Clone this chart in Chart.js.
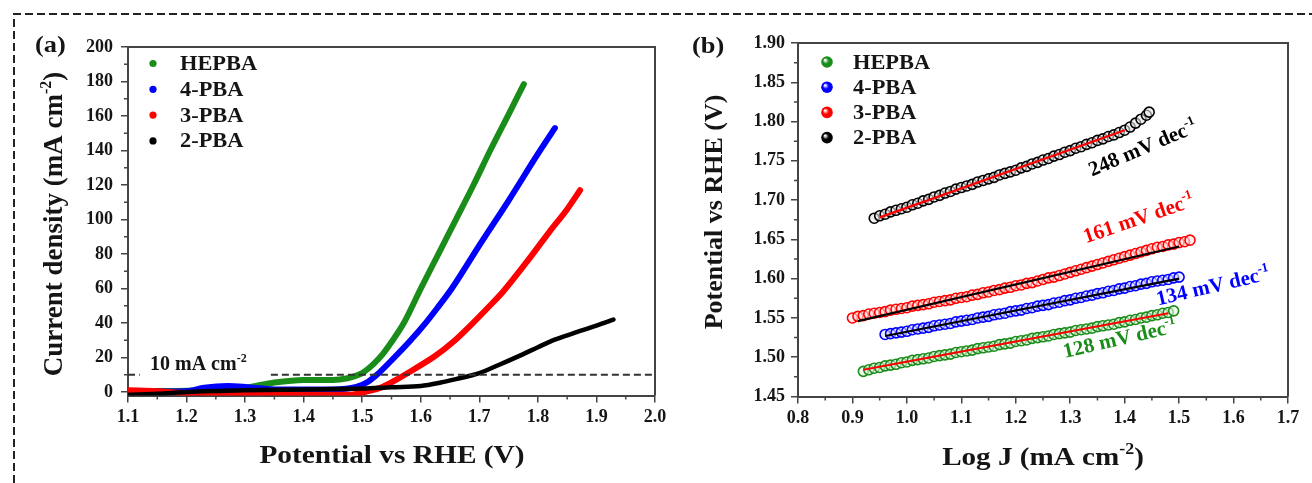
<!DOCTYPE html>
<html>
<head>
<meta charset="utf-8">
<script src="https://cdn.jsdelivr.net/npm/chart.js@4.4.1/dist/chart.umd.min.js"></script>
<style>
html,body{margin:0;padding:0;background:#fff;width:1312px;height:483px;overflow:hidden;}
#wrap{position:relative;width:1312px;height:483px;}
#wrap canvas,#wrap svg{position:absolute;top:0;}
#ca{left:0;width:690px;height:483px;}
#cb{left:660px;width:652px;height:483px;}
</style>
</head>
<body>
<div id="wrap">
<svg width="1312" height="483" style="left:0"><path d="M14 483 L14 14 L1312 14" fill="none" stroke="#222" stroke-width="2" stroke-dasharray="8 4"/></svg>
<canvas id="ca" width="690" height="483"></canvas>
<canvas id="cb" width="652" height="483"></canvas>
</div>
<script>
// series names / colours (legend order)
const names=['HEPBA','4-PBA','3-PBA','2-PBA'];
const colors=['#1a8c1a','#0000ff','#ff0000','#000000'];

// (a) LSV curves: potential vs RHE (V) / current density (mA cm-2)
const hepbaV=[1.10,1.15,1.20,1.25,1.30,1.35,1.40,1.45,1.475,1.49,1.50,1.51,1.52,1.535,1.55,1.571,1.60,1.63,1.66,1.69,1.72,1.75,1.776];
const hepbaJ=[0.5,0.6,0.8,1.5,2.5,5.5,7,7,8,9.5,11,13.5,16.5,22,29,40,60,80,100,120,141,161,178.5];
const pba4V=[1.10,1.15,1.20,1.23,1.27,1.30,1.35,1.45,1.49,1.51,1.525,1.549,1.58,1.607,1.63,1.653,1.70,1.75,1.80,1.829];
const pba4J=[0,0.3,0.5,2.5,3.5,3,1.5,1.5,3,6,10,18,29,39.5,49.5,60,85,111,138,153];
const pba3V=[1.10,1.15,1.20,1.30,1.36,1.48,1.51,1.535,1.56,1.59,1.625,1.655,1.686,1.715,1.74,1.78,1.82,1.85,1.872];
const pba3J=[1,0.5,-0.5,-0.5,-1.5,-1.5,0.5,3,7.5,13.5,21,29,39,49,58,75,93,106,117];
const pba2V=[1.10,1.15,1.20,1.30,1.40,1.50,1.55,1.60,1.634,1.66,1.70,1.735,1.775,1.80,1.83,1.86,1.90,1.929];
const pba2J=[-1.5,-1,0,1,1.5,2,2.8,3.5,5.5,7.5,11,16,22,26,30.5,34,38.5,42];
// 10 mA cm-2 reference line (broken where the label sits)
const refX=[1.10,1.12,1.121,1.344,2.0];
const refJ=[10,10,null,10,10];
const xTicksA=[1.1,1.2,1.3,1.4,1.5,1.6,1.7,1.8,1.9,2.0];
const yTicksA=[0,20,40,60,80,100,120,140,160,180,200];

// (b) Tafel: log J (mA cm-2) / potential vs RHE (V)
const tHepbaX=[0.92,0.93,0.94,0.95,0.96,0.97,0.98,0.99,1.00,1.01,1.02,1.03,1.04,1.05,1.06,1.07,1.08,1.09,1.10,1.11,1.12,1.13,1.14,1.15,1.16,1.17,1.18,1.19,1.20,1.21,1.22,1.23,1.24,1.25,1.26,1.27,1.28,1.29,1.30,1.31,1.32,1.33,1.34,1.35,1.36,1.37,1.38,1.39,1.40,1.41,1.42,1.43,1.44,1.45,1.46,1.47,1.48,1.49];
const tHepbaY=[1.482,1.484,1.486,1.487,1.489,1.490,1.491,1.493,1.494,1.496,1.497,1.498,1.499,1.501,1.502,1.503,1.504,1.506,1.507,1.508,1.509,1.511,1.512,1.513,1.514,1.516,1.517,1.518,1.520,1.521,1.522,1.524,1.525,1.526,1.527,1.529,1.530,1.531,1.532,1.534,1.535,1.536,1.537,1.539,1.540,1.541,1.542,1.544,1.545,1.547,1.548,1.550,1.551,1.553,1.554,1.556,1.557,1.559];
const t4X=[0.96,0.97,0.98,0.99,1.00,1.01,1.02,1.03,1.04,1.05,1.06,1.07,1.08,1.09,1.10,1.11,1.12,1.13,1.14,1.15,1.16,1.17,1.18,1.19,1.20,1.21,1.22,1.23,1.24,1.25,1.26,1.27,1.28,1.29,1.30,1.31,1.32,1.33,1.34,1.35,1.36,1.37,1.38,1.39,1.40,1.41,1.42,1.43,1.44,1.45,1.46,1.47,1.48,1.49,1.50];
const t4Y=[1.529,1.530,1.531,1.532,1.533,1.535,1.536,1.537,1.538,1.540,1.541,1.542,1.543,1.545,1.546,1.547,1.548,1.550,1.551,1.552,1.554,1.555,1.556,1.558,1.559,1.560,1.562,1.563,1.565,1.566,1.567,1.569,1.570,1.572,1.573,1.575,1.576,1.578,1.579,1.581,1.582,1.584,1.585,1.587,1.588,1.590,1.591,1.593,1.594,1.596,1.597,1.598,1.599,1.601,1.602];
const t3X=[0.90,0.91,0.92,0.93,0.94,0.95,0.96,0.97,0.98,0.99,1.00,1.01,1.02,1.03,1.04,1.05,1.06,1.07,1.08,1.09,1.10,1.11,1.12,1.13,1.14,1.15,1.16,1.17,1.18,1.19,1.20,1.21,1.22,1.23,1.24,1.25,1.26,1.27,1.28,1.29,1.30,1.31,1.32,1.33,1.34,1.35,1.36,1.37,1.38,1.39,1.40,1.41,1.42,1.43,1.44,1.45,1.46,1.47,1.48,1.49,1.50,1.51,1.52];
const t3Y=[1.550,1.552,1.553,1.555,1.556,1.557,1.558,1.560,1.561,1.562,1.563,1.565,1.566,1.567,1.568,1.570,1.571,1.572,1.573,1.575,1.576,1.577,1.579,1.580,1.582,1.583,1.585,1.586,1.588,1.589,1.591,1.592,1.594,1.595,1.597,1.599,1.601,1.602,1.604,1.606,1.608,1.610,1.612,1.614,1.616,1.618,1.620,1.622,1.624,1.626,1.628,1.630,1.632,1.634,1.636,1.638,1.640,1.641,1.643,1.644,1.646,1.647,1.649];
const t2X=[0.94,0.95,0.96,0.97,0.98,0.99,1.00,1.01,1.02,1.03,1.04,1.05,1.06,1.07,1.08,1.09,1.10,1.11,1.12,1.13,1.14,1.15,1.16,1.17,1.18,1.19,1.20,1.21,1.22,1.23,1.24,1.25,1.26,1.27,1.28,1.29,1.30,1.31,1.32,1.33,1.34,1.35,1.36,1.37,1.38,1.39,1.40,1.41,1.42,1.43,1.44,1.445];
const t2Y=[1.677,1.680,1.682,1.685,1.687,1.689,1.691,1.694,1.696,1.699,1.701,1.704,1.706,1.709,1.711,1.714,1.716,1.718,1.720,1.723,1.725,1.727,1.729,1.732,1.734,1.736,1.738,1.741,1.743,1.746,1.748,1.751,1.753,1.756,1.758,1.761,1.763,1.766,1.768,1.771,1.773,1.776,1.778,1.781,1.783,1.786,1.789,1.793,1.798,1.803,1.808,1.812];
// linear fits: [x0,x1],[y0,y1]
const fitHepba=[[0.92,1.48],[1.484,1.556]];
const fit4=[[0.96,1.50],[1.527,1.600]];
const fit3=[[0.91,1.50],[1.546,1.641]];
const fit2=[[0.95,1.40],[1.678,1.789]];
const fitColors=['#ff0000','#000000','#000000','#ff0000'];
const slopes=['128','134','161','248'];
const slopeAt=[[1.290,1.499],[1.461,1.566],[1.329,1.645],[1.340,1.730]];
const slopeRot=[-13,-13,-19,-23];
const xTicksB=[0.8,0.9,1.0,1.1,1.2,1.3,1.4,1.5,1.6,1.7];
const yTicksB=[1.45,1.50,1.55,1.60,1.65,1.70,1.75,1.80,1.85,1.90];

const serif='"Liberation Serif","Times New Roman",serif';
const pts=(xs,ys)=>xs.map((x,i)=>({x:x,y:ys[i]}));
const mids=a=>a.slice(1).map((v,i)=>(v+a[i])/2);

// bold serif text with optional superscript parts: [[text,sup],...]
function txt(ctx,parts,x,y,size,o){
  o=o||{};
  ctx.save();
  ctx.translate(x,y); ctx.rotate((o.rot||0)*Math.PI/180); ctx.scale(o.sx||1,1);
  ctx.fillStyle=o.color||'#151515'; ctx.textAlign='left'; ctx.textBaseline='alphabetic';
  const f=p=>'bold '+(p[1]?Math.round(size*0.6):size)+'px '+serif;
  let w=0; parts.forEach(p=>{ctx.font=f(p); w+=ctx.measureText(p[0]).width;});
  let cx=o.align==='center'?-w/2:0;
  parts.forEach(p=>{ctx.font=f(p); ctx.fillText(p[0],cx,p[1]?-size*0.42:0); cx+=ctx.measureText(p[0]).width;});
  ctx.restore();
}

// frame top/right, minor ticks, plus per-panel decoration
const frame={id:'frame',afterDraw(c,args,o){
  const ctx=c.ctx,a=c.chartArea,sx=c.scales.x,sy=c.scales.y;
  ctx.save();
  ctx.strokeStyle='#444'; ctx.lineWidth=2;
  ctx.beginPath(); ctx.moveTo(a.left,a.top); ctx.lineTo(a.right,a.top); ctx.lineTo(a.right,a.bottom); ctx.stroke();
  ctx.lineWidth=1.5; ctx.beginPath();
  o.minorX.forEach(v=>{const p=sx.getPixelForValue(v); ctx.moveTo(p,a.bottom); ctx.lineTo(p,a.bottom+4);});
  o.minorY.forEach(v=>{const p=sy.getPixelForValue(v); ctx.moveTo(a.left,p); ctx.lineTo(a.left-4,p);});
  ctx.stroke();
  ctx.restore();
  o.draw(c);
}};

function axis(ticks,min,max,fmt,pad,fit){
  return {type:'linear',min:min,max:max,
    afterBuildTicks:s=>{s.ticks=ticks.map(v=>({value:v}));},
    afterFit:s=>{fit(s); s.paddingLeft=0; s.paddingRight=0; s.paddingTop=0; s.paddingBottom=0;},
    grid:{drawOnChartArea:false,drawTicks:true,tickLength:7,color:'#444',lineWidth:1.5},
    border:{color:'#444',width:2},
    ticks:{autoSkip:false,maxRotation:0,padding:pad,color:'#151515',font:{family:serif,size:18,weight:'bold'},callback:v=>fmt(v)}};
}

// ---------- panel (a)
const lsv=[[hepbaV,hepbaJ],[pba4V,pba4J],[pba3V,pba3J],[pba2V,pba2J]];
const dsA=lsv.map((s,i)=>({label:names[i],data:pts(s[0],s[1]),showLine:true,borderColor:colors[i],
  borderWidth:i===3?4.5:6,pointRadius:0,borderCapStyle:'round',borderJoinStyle:'round',cubicInterpolationMode:'monotone',order:4-i}));
dsA.push({label:'ref',data:pts(refX,refJ),showLine:true,spanGaps:false,borderColor:'#333',borderWidth:2,borderDash:[7,4],pointRadius:0,order:0});

new Chart(document.getElementById('ca'),{type:'scatter',
  data:{datasets:dsA},
  options:{responsive:false,animation:false,
    layout:{padding:{left:68,right:35,top:47,bottom:47.5}},
    scales:{
      x:axis(xTicksA,1.1,2.0,v=>v.toFixed(1),4,s=>{s.height=40;}),
      y:axis(yTicksA,-2,200,v=>v.toFixed(0),8,s=>{s.width=60;})},
    plugins:{legend:{display:false},tooltip:{enabled:false},
      frame:{minorX:mids(xTicksA),minorY:mids(yTicksA),draw:c=>{
        const ctx=c.ctx;
        names.forEach((n,i)=>{
          const y=63.5+i*25.8;
          ctx.fillStyle=colors[i]; ctx.beginPath(); ctx.arc(153,y,3.6,0,Math.PI*2); ctx.fill();
          txt(ctx,[[n]],180,y+6.5,20,{sx:1.12});
        });
        txt(ctx,[['(a)']],35,52,24,{sx:1.1});
        txt(ctx,[['10 mA cm'],['-2',1]],150,370,20);
        txt(ctx,[['Current density (mA cm'],['-2',1],[')']],62,224,27,{rot:-90,align:'center'});
        txt(ctx,[['Potential vs RHE (V)']],392,463,26,{sx:1.13,align:'center'});
      }}}},
  plugins:[frame]});

// ---------- panel (b)
const tafel=[[tHepbaX,tHepbaY],[t4X,t4Y],[t3X,t3Y],[t2X,t2Y]];
const fits=[fitHepba,fit4,fit3,fit2];
const tint=['rgba(225,245,225,0.6)','rgba(225,225,255,0.6)','rgba(255,225,225,0.6)','rgba(230,230,230,0.6)'];
const dsB=[];
tafel.forEach((s,i)=>dsB.push({label:names[i],data:pts(s[0],s[1]),pointRadius:5,pointBorderWidth:1.6,
  borderColor:colors[i],backgroundColor:tint[i],order:2}));
fits.forEach((f,i)=>dsB.push({label:'fit '+names[i],data:pts(f[0],f[1]),showLine:true,pointRadius:0,
  borderColor:fitColors[i],borderWidth:2.2,order:1}));

new Chart(document.getElementById('cb'),{type:'scatter',
  data:{datasets:dsB},
  options:{responsive:false,animation:false,
    layout:{padding:{left:68,right:24,top:43,bottom:46.5}},
    scales:{
      x:axis(xTicksB,0.8,1.7,v=>v.toFixed(1),4,s=>{s.height=40;}),
      y:axis(yTicksB,1.45,1.90,v=>v.toFixed(2),6,s=>{s.width=70;})},
    plugins:{legend:{display:false},tooltip:{enabled:false},
      frame:{minorX:mids(xTicksB),minorY:mids(yTicksB),draw:c=>{
        const ctx=c.ctx,sx=c.scales.x,sy=c.scales.y;
        names.forEach((n,i)=>{
          const y=62+i*25.2;
          const g=ctx.createRadialGradient(165,y-2,0.5,167,y,6);
          g.addColorStop(0,'#ffffff'); g.addColorStop(0.45,colors[i]); g.addColorStop(1,colors[i]);
          ctx.fillStyle=g; ctx.beginPath(); ctx.arc(167,y,5.8,0,Math.PI*2); ctx.fill();
          txt(ctx,[[n]],193,y+6.5,20,{sx:1.12});
        });
        slopes.forEach((s,i)=>{
          txt(ctx,[[s+' mV dec'],['-1',1]],sx.getPixelForValue(slopeAt[i][0]),sy.getPixelForValue(slopeAt[i][1]),21,{rot:slopeRot[i],color:colors[i]});
        });
        txt(ctx,[['(b)']],32,53,24,{sx:1.1});
        txt(ctx,[['Potential vs RHE (V)']],62,212,26,{rot:-90,align:'center'});
        txt(ctx,[['Log J (mA cm'],['-2',1],[')']],383,465,26,{sx:1.12,align:'center'});
      }}}},
  plugins:[frame]});
</script>
</body>
</html>
